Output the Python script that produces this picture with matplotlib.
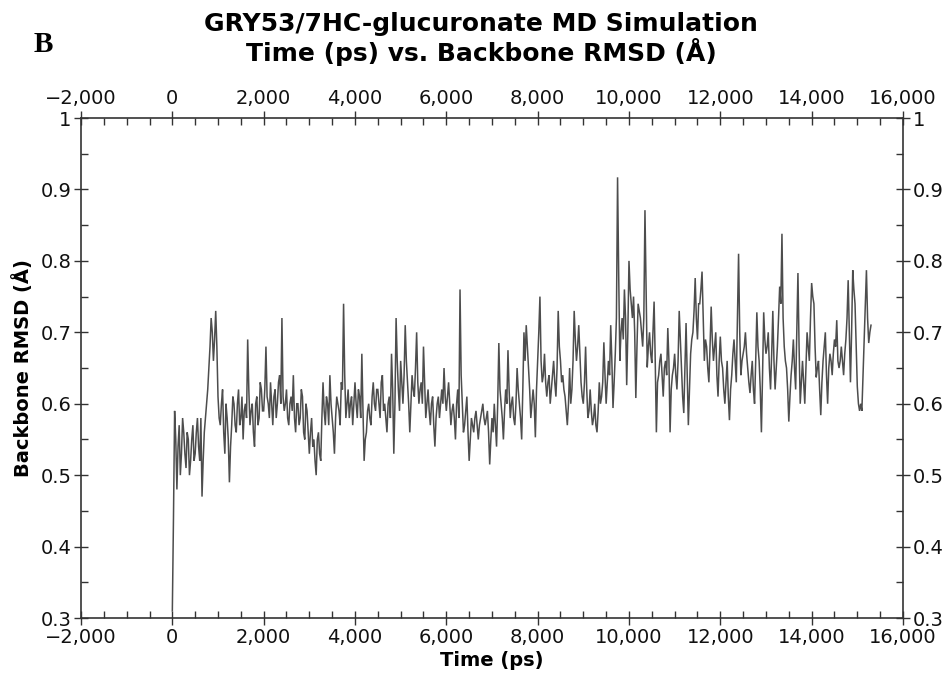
import numpy as np
import matplotlib
matplotlib.use("Agg")
import matplotlib.pyplot as plt
from matplotlib.ticker import MultipleLocator, FuncFormatter

# Frames are every 25 ps. Split into the
# frames at whole 50 ps and the frames at the half steps in between (Å).
frame_step_ps = 25
rmsd_even = [
    # 0 - 950 ps
    0.31, 0.59, 0.48, 0.57, 0.53, 0.56, 0.51, 0.55, 0.52, 0.57,
    0.53, 0.58, 0.52, 0.47, 0.56, 0.60, 0.65, 0.72, 0.66, 0.73,
    # 1000 - 1950
    0.61, 0.57, 0.62, 0.53, 0.58, 0.49, 0.57, 0.60, 0.56, 0.62,
    0.58, 0.55, 0.60, 0.69, 0.57, 0.60, 0.54, 0.61, 0.58, 0.62,
    # 2000 - 2950
    0.59, 0.68, 0.60, 0.63, 0.57, 0.62, 0.60, 0.64, 0.72, 0.59,
    0.62, 0.57, 0.61, 0.64, 0.56, 0.60, 0.58, 0.61, 0.55, 0.59,
    # 3000 - 3950
    0.53, 0.58, 0.55, 0.50, 0.56, 0.52, 0.63, 0.57, 0.60, 0.64,
    0.58, 0.53, 0.61, 0.59, 0.63, 0.74, 0.58, 0.62, 0.60, 0.57,
    # 4000 - 4950
    0.63, 0.58, 0.61, 0.67, 0.52, 0.56, 0.60, 0.57, 0.63, 0.59,
    0.62, 0.58, 0.64, 0.60, 0.56, 0.61, 0.67, 0.53, 0.72, 0.62,
    # 5000 - 5950
    0.66, 0.60, 0.71, 0.63, 0.56, 0.64, 0.61, 0.70, 0.60, 0.63,
    0.68, 0.58, 0.62, 0.57, 0.61, 0.54, 0.60, 0.58, 0.62, 0.65,
    # 6000 - 6950
    0.59, 0.63, 0.57, 0.60, 0.55, 0.62, 0.76, 0.60, 0.57, 0.61,
    0.52, 0.58, 0.56, 0.59, 0.55, 0.58, 0.60, 0.57, 0.59, 0.515,
    # 7000 - 7950
    0.58, 0.60, 0.54, 0.685, 0.60, 0.55, 0.62, 0.675, 0.58, 0.61,
    0.57, 0.65, 0.60, 0.55, 0.70, 0.71, 0.65, 0.58, 0.62, 0.553,
    # 8000 - 8950
    0.66, 0.75, 0.63, 0.67, 0.61, 0.64, 0.62, 0.66, 0.61, 0.73,
    0.66, 0.64, 0.61, 0.57, 0.65, 0.62, 0.73, 0.66, 0.71, 0.63,
    # 9000 - 9950
    0.60, 0.68, 0.58, 0.62, 0.57, 0.60, 0.56, 0.63, 0.61, 0.686,
    0.60, 0.66, 0.71, 0.594, 0.67, 0.917, 0.66, 0.72, 0.76, 0.626,
    # 10000 - 10950
    0.80, 0.74, 0.75, 0.608, 0.74, 0.72, 0.68, 0.871, 0.651, 0.70,
    0.657, 0.743, 0.56, 0.64, 0.67, 0.61, 0.66, 0.706, 0.56, 0.64,
    # 11000 - 11950
    0.67, 0.62, 0.73, 0.65, 0.587, 0.713, 0.57, 0.67, 0.70, 0.776,
    0.69, 0.74, 0.785, 0.66, 0.68, 0.63, 0.736, 0.66, 0.70, 0.61,
    # 12000 - 12950
    0.694, 0.65, 0.60, 0.66, 0.577, 0.64, 0.69, 0.63, 0.81, 0.64,
    0.67, 0.70, 0.65, 0.615, 0.66, 0.60, 0.728, 0.66, 0.56, 0.728,
    # 13000 - 13950
    0.67, 0.70, 0.62, 0.73, 0.62, 0.68, 0.764, 0.838, 0.68, 0.65,
    0.575, 0.64, 0.69, 0.62, 0.783, 0.60, 0.66, 0.60, 0.70, 0.66,
    # 14000 - 14950
    0.769, 0.74, 0.637, 0.66, 0.584, 0.66, 0.70, 0.60, 0.67, 0.64,
    0.69, 0.717, 0.65, 0.68, 0.64, 0.69, 0.773, 0.63, 0.787, 0.74,
    # 15000 - 15300
    0.624, 0.59, 0.59, 0.69, 0.787, 0.685, 0.71,
]
rmsd_half = [
    # 25 - 975 ps
    0.44, 0.55, 0.54, 0.50, 0.58, 0.53, 0.56, 0.50, 0.55, 0.52,
    0.56, 0.54, 0.58, 0.52, 0.58, 0.62, 0.68, 0.70, 0.69, 0.68,
    # 1025 - 1975
    0.58, 0.60, 0.56, 0.60, 0.55, 0.54, 0.61, 0.57, 0.60, 0.57,
    0.61, 0.59, 0.58, 0.62, 0.59, 0.56, 0.60, 0.57, 0.63, 0.59,
    # 2025 - 2975
    0.62, 0.61, 0.58, 0.60, 0.61, 0.58, 0.63, 0.60, 0.61, 0.60,
    0.58, 0.60, 0.59, 0.58, 0.60, 0.57, 0.62, 0.56, 0.60, 0.56,
    # 3025 - 3975
    0.56, 0.54, 0.52, 0.55, 0.53, 0.58, 0.59, 0.61, 0.57, 0.60,
    0.56, 0.58, 0.60, 0.57, 0.62, 0.64, 0.60, 0.58, 0.61, 0.60,
    # 4025 - 4975
    0.60, 0.62, 0.58, 0.59, 0.55, 0.59, 0.58, 0.61, 0.60, 0.62,
    0.60, 0.63, 0.59, 0.58, 0.60, 0.58, 0.62, 0.60, 0.66, 0.59,
    # 5025 - 5975
    0.63, 0.64, 0.66, 0.60, 0.60, 0.62, 0.65, 0.63, 0.62, 0.60,
    0.63, 0.60, 0.59, 0.60, 0.57, 0.58, 0.61, 0.60, 0.60, 0.61,
    # 6025 - 6975
    0.61, 0.60, 0.59, 0.58, 0.60, 0.58, 0.64, 0.56, 0.59, 0.56,
    0.55, 0.57, 0.58, 0.57, 0.57, 0.59, 0.58, 0.58, 0.56, 0.55,
    # 7025 - 7975
    0.56, 0.57, 0.60, 0.62, 0.58, 0.59, 0.60, 0.62, 0.60, 0.58,
    0.60, 0.62, 0.58, 0.62, 0.66, 0.68, 0.62, 0.60, 0.60, 0.62,
    # 8025 - 8975
    0.70, 0.66, 0.64, 0.63, 0.63, 0.60, 0.64, 0.63, 0.65, 0.68,
    0.63, 0.62, 0.59, 0.60, 0.60, 0.66, 0.69, 0.68, 0.67, 0.61,
    # 9025 - 9975
    0.63, 0.62, 0.59, 0.59, 0.58, 0.57, 0.59, 0.60, 0.63, 0.64,
    0.63, 0.64, 0.66, 0.63, 0.72, 0.78, 0.70, 0.69, 0.72, 0.70,
    # 10025 - 10975
    0.76, 0.72, 0.70, 0.68, 0.73, 0.70, 0.72, 0.76, 0.68, 0.67,
    0.70, 0.66, 0.63, 0.66, 0.64, 0.65, 0.64, 0.66, 0.62, 0.65,
    # 11025 - 11975
    0.64, 0.66, 0.69, 0.61, 0.65, 0.64, 0.62, 0.69, 0.73, 0.72,
    0.74, 0.76, 0.72, 0.69, 0.65, 0.68, 0.69, 0.68, 0.64, 0.66,
    # 12025 - 12975
    0.66, 0.62, 0.63, 0.61, 0.62, 0.67, 0.66, 0.72, 0.70, 0.66,
    0.68, 0.67, 0.63, 0.64, 0.62, 0.66, 0.68, 0.62, 0.64, 0.69,
    # 13025 - 13975
    0.68, 0.65, 0.67, 0.66, 0.65, 0.72, 0.74, 0.72, 0.66, 0.62,
    0.61, 0.66, 0.65, 0.70, 0.68, 0.63, 0.63, 0.65, 0.68, 0.72,
    # 14025 - 14975
    0.75, 0.68, 0.65, 0.62, 0.63, 0.68, 0.64, 0.65, 0.66, 0.67,
    0.68, 0.66, 0.66, 0.66, 0.67, 0.72, 0.70, 0.70, 0.76, 0.68,
    # 15025 - 15275
    0.60, 0.60, 0.64, 0.74, 0.72, 0.70,
]

# interleave the two lists into the full time series
rmsd = []
for i, v in enumerate(rmsd_even):
    rmsd.append(v)
    if i < len(rmsd_half):
        rmsd.append(rmsd_half[i])
time_ps = np.arange(len(rmsd)) * frame_step_ps

x_major_ticks = [-2000, 0, 2000, 4000, 6000, 8000, 10000, 12000, 14000, 16000]
y_major_ticks = [0.3, 0.4, 0.5, 0.6, 0.7, 0.8, 0.9, 1.0]

title_line1 = "GRY53/7HC-glucuronate MD Simulation"
title_line2 = "Time (ps) vs. Backbone RMSD (Å)"
x_label = "Time (ps)"
y_label = "Backbone RMSD (Å)"
panel_label = "B"

plt.rcParams['font.family'] = ['DejaVu Sans']

fig = plt.figure(figsize=(9.53, 6.89), dpi=100)
ax = fig.add_axes([0.085, 0.103, 0.8625, 0.7257])

ax.plot(time_ps, rmsd, color='#4d4d4d', lw=1.1, solid_joinstyle='miter')

ax.set_xlim(-2000, 16000)
ax.set_ylim(0.3, 1.0)
ax.set_xticks(x_major_ticks)
ax.set_yticks(y_major_ticks)
ax.xaxis.set_minor_locator(MultipleLocator(500))
ax.yaxis.set_minor_locator(MultipleLocator(0.05))

def xfmt(v, pos):
    return f"{int(round(v)):,}".replace('-', '\u2212')

def yfmt(v, pos):
    return f"{v:g}"

ax.xaxis.set_major_formatter(FuncFormatter(xfmt))
ax.yaxis.set_major_formatter(FuncFormatter(yfmt))

ax.tick_params(which='both', top=True, right=True, labeltop=True, labelright=True,
               colors='#333333', labelcolor='#111111', labelsize=14)
ax.tick_params(which='major', direction='inout', length=10, width=1.0, pad=2)
ax.tick_params(which='minor', direction='in', length=5, width=1.0)

for s in ax.spines.values():
    s.set_color('#333333')
    s.set_linewidth(1.2)

ax.set_xlabel(x_label, fontsize=14, fontweight='bold', labelpad=3)
ax.set_ylabel(y_label, fontsize=14, fontweight='bold', labelpad=5)

fig.text(0.505, 0.965, title_line1, ha='center', va='center', fontsize=18, fontweight='bold')
fig.text(0.505, 0.924, title_line2, ha='center', va='center', fontsize=18, fontweight='bold')
fig.text(0.045, 0.935, panel_label, ha='center', va='center', fontsize=21, fontweight='bold',
         family='Liberation Serif')

fig.savefig("out.png", dpi=100)
